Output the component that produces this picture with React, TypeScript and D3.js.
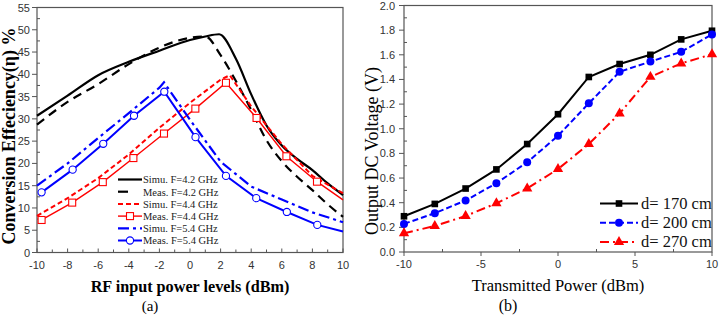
import React, { useEffect, useRef } from 'react';
import * as d3 from 'd3';

// ---- panel (a): conversion efficiency vs RF input power ----
const simu42X = [-10, -8, -6, -4, -2, 0, 1, 1.9, 3, 4, 5, 6, 7, 8, 9, 10];
const simu42Y = [30.7, 35.2, 39.8, 42.8, 45.3, 47.7, 48.5, 49, 43.5, 35.5, 28.5, 24, 21, 18.5, 15.5, 12.9];
const meas42X = [-10, -8, -6, -4, -2, 0, 1, 2, 3, 4, 5, 6, 7, 8, 9, 10];
const meas42Y = [28.7, 33.8, 37.8, 42.3, 46, 48.2, 48.5, 44.3, 38.5, 32, 25.2, 20.5, 17, 14, 10.8, 8];
const simu44X = [-10, -8, -6, -4, -2, 0, 2, 2.6, 4, 6, 8, 10];
const simu44Y = [8.2, 12.2, 16.7, 22, 28, 33.6, 38.8, 39.8, 32.8, 24.3, 17.2, 13.3];
const meas44X = [-9.7, -7.7, -5.7, -3.7, -1.7, 0.35, 2.35, 4.35, 6.3, 8.3, 10];
const meas44Y = [7.3, 11.2, 15.8, 21.2, 26.7, 32.3, 38.1, 30.2, 21.6, 15.9, 11.8];
const simu54X = [-10, -8, -6, -4, -2, -1.7, 0, 2, 4, 6, 8, 10];
const simu54Y = [15, 20, 25.7, 31.3, 37, 38.2, 29.8, 20.4, 14.8, 11.9, 9, 6.8];
const meas54X = [-9.7, -7.67, -5.67, -3.66, -1.68, 0.36, 2.35, 4.33, 6.33, 8.32, 10];
const meas54Y = [13.5, 18.6, 24.4, 30.7, 36.1, 25.9, 17.2, 12.2, 9.1, 6.2, 4.7];
const legendA = ['Simu. F=4.2 GHz', 'Meas. F=4.2 GHz', 'Simu. F=4.4 GHz', 'Meas. F=4.4 GHz', 'Simu. F=5.4 GHz', 'Meas. F=5.4 GHz'];
const ticksAX = [-10, -8, -6, -4, -2, 0, 2, 4, 6, 8, 10];
const ticksAY = [0, 5, 10, 15, 20, 25, 30, 35, 40, 45, 50, 55];

// ---- panel (b): output DC voltage vs transmitted power ----
const powerB = [-10, -8, -6, -4, -2, 0, 2, 4, 6, 8, 10];
const d170 = [0.29, 0.39, 0.515, 0.67, 0.876, 1.118, 1.42, 1.525, 1.6, 1.725, 1.795];
const d200 = [0.228, 0.315, 0.418, 0.558, 0.728, 0.943, 1.206, 1.462, 1.545, 1.624, 1.765];
const d270 = [0.152, 0.211, 0.292, 0.395, 0.516, 0.673, 0.876, 1.124, 1.421, 1.53, 1.605];
const legendB = ['d= 170 cm', 'd= 200 cm', 'd= 270 cm'];
const ticksBX = [-10, -5, 0, 5, 10];
const ticksBY = [0, 0.2, 0.4, 0.6, 0.8, 1.0, 1.2, 1.4, 1.6, 1.8, 2.0];

const SERIF = '"Liberation Serif", "Times New Roman", serif';
const SANS = '"Liberation Sans", Arial, sans-serif';

const App = () => {
  const svgRef = useRef(null);

  useEffect(() => {
    const svg = d3.select(svgRef.current);
    svg.selectAll('*').remove();

    const axisCol = '#555';
    const tickCol = '#333';

    // frame + axes helper
    const drawFrame = (x, y, xTicks, xMinor, yTicks, yMinor, xFmt, yFmt, xInward, labGap) => {
      const [x0, x1] = x.range();
      const [y0, y1] = y.range();
      const g = svg.append('g');
      g.append('rect')
        .attr('x', x0).attr('y', y1)
        .attr('width', x1 - x0).attr('height', y0 - y1)
        .attr('fill', 'none').attr('stroke', axisCol).attr('stroke-width', 1.2);
      // x ticks
      g.selectAll('.xmaj').data(xTicks).join('line')
        .attr('x1', d => x(d)).attr('x2', d => x(d))
        .attr('y1', y0).attr('y2', xInward ? y0 - 4 : y0 + 4)
        .attr('stroke', axisCol);
      g.selectAll('.xmin').data(xMinor).join('line')
        .attr('x1', d => x(d)).attr('x2', d => x(d))
        .attr('y1', y0).attr('y2', y0 - 3)
        .attr('stroke', axisCol);
      g.selectAll('.xlab').data(xTicks).join('text')
        .attr('x', d => x(d)).attr('y', y0 + 16)
        .attr('text-anchor', 'middle')
        .style('font-family', SANS).style('font-size', '11px').attr('fill', tickCol)
        .text(xFmt);
      // y ticks
      g.selectAll('.ymaj').data(yTicks).join('line')
        .attr('x1', x0).attr('x2', x0 - 5)
        .attr('y1', d => y(d)).attr('y2', d => y(d))
        .attr('stroke', axisCol);
      g.selectAll('.ymin').data(yMinor).join('line')
        .attr('x1', x0).attr('x2', x0 + 3)
        .attr('y1', d => y(d)).attr('y2', d => y(d))
        .attr('stroke', axisCol);
      g.selectAll('.ylab').data(yTicks).join('text')
        .attr('x', x0 - labGap).attr('y', d => y(d) + 4)
        .attr('text-anchor', 'end')
        .style('font-family', SANS).style('font-size', '11px').attr('fill', tickCol)
        .text(yFmt);
    };

    const line = (x, y, curve) => d3.line().x(d => x(d[0])).y(d => y(d[1])).curve(curve || d3.curveLinear);
    const zip = (xs, ys) => xs.map((v, i) => [v, ys[i]]);

    // ================= Panel (a) =================
    const xA = d3.scaleLinear().domain([-10, 10]).range([37, 343]);
    const yA = d3.scaleLinear().domain([0, 55]).range([252.5, 7.5]);

    drawFrame(xA, yA, ticksAX, d3.range(-9, 10, 2), ticksAY, d3.range(2.5, 55, 5),
      d => d, d => d, true, 7);

    const gA = svg.append('g');
    const seriesA = [
      { xs: simu42X, ys: simu42Y, color: '#000', w: 2.2, dash: null, curve: d3.curveMonotoneX },
      { xs: meas42X, ys: meas42Y, color: '#000', w: 2.2, dash: '9,6', curve: d3.curveMonotoneX },
      { xs: simu44X, ys: simu44Y, color: '#f00', w: 2, dash: '5,3', curve: d3.curveLinear },
      { xs: meas44X, ys: meas44Y, color: '#f00', w: 1.4, dash: null, curve: d3.curveLinear, marker: 'square' },
      { xs: simu54X, ys: simu54Y, color: '#00f', w: 2.2, dash: '11,4,3,4', curve: d3.curveLinear },
      { xs: meas54X, ys: meas54Y, color: '#00f', w: 2, dash: null, curve: d3.curveLinear, marker: 'circle' },
    ];
    seriesA.forEach(s => {
      const pts = zip(s.xs, s.ys);
      gA.append('path')
        .attr('d', line(xA, yA, s.curve)(pts))
        .attr('fill', 'none').attr('stroke', s.color)
        .attr('stroke-width', s.w)
        .attr('stroke-dasharray', s.dash);
      if (s.marker === 'square') {
        gA.selectAll(null).data(pts.slice(0, -1)).join('rect')
          .attr('x', d => xA(d[0]) - 3.5).attr('y', d => yA(d[1]) - 3.5)
          .attr('width', 7).attr('height', 7)
          .attr('fill', '#fff').attr('stroke', s.color).attr('stroke-width', 1.1);
      }
      if (s.marker === 'circle') {
        gA.selectAll(null).data(pts.slice(0, -1)).join('circle')
          .attr('cx', d => xA(d[0])).attr('cy', d => yA(d[1])).attr('r', 3.6)
          .attr('fill', '#fff').attr('stroke', s.color).attr('stroke-width', 1.1);
      }
    });

    // legend (a)
    const legA = svg.append('g');
    legendA.forEach((lab, i) => {
      const s = seriesA[i];
      const yy = 179.5 + i * 12.2;
      legA.append('line')
        .attr('x1', 118).attr('x2', 142).attr('y1', yy).attr('y2', yy)
        .attr('stroke', s.color).attr('stroke-width', s.w)
        .attr('stroke-dasharray', i === 1 ? '10,40' : i === 4 ? '11,4,3,4' : s.dash);
      if (s.marker === 'square') {
        legA.append('rect').attr('x', 126.5).attr('y', yy - 3.5).attr('width', 7).attr('height', 7)
          .attr('fill', '#fff').attr('stroke', s.color).attr('stroke-width', 1.1);
      }
      if (s.marker === 'circle') {
        legA.append('circle').attr('cx', 130).attr('cy', yy).attr('r', 3.6)
          .attr('fill', '#fff').attr('stroke', s.color).attr('stroke-width', 1.1);
      }
      legA.append('text')
        .attr('x', 143).attr('y', yy + 3.8)
        .style('font-family', SERIF).style('font-size', '10.5px').attr('fill', '#222')
        .text(lab);
    });

    // titles (a)
    svg.append('text')
      .attr('transform', 'translate(15,136) rotate(-90)')
      .attr('text-anchor', 'middle')
      .style('font-family', SERIF).style('font-size', '18px').style('font-weight', 'bold')
      .text('Conversion Effeciency(η) %');
    svg.append('text')
      .attr('x', 190).attr('y', 292)
      .attr('text-anchor', 'middle')
      .style('font-family', SERIF).style('font-size', '16.2px').style('font-weight', 'bold')
      .text('RF input power levels (dBm)');
    svg.append('text')
      .attr('x', 150).attr('y', 311)
      .attr('text-anchor', 'middle')
      .style('font-family', SERIF).style('font-size', '15px')
      .text('(a)');

    // ================= Panel (b) =================
    const xB = d3.scaleLinear().domain([-10, 10]).range([404, 712]);
    const yB = d3.scaleLinear().domain([0, 2]).range([252, 5.5]);

    drawFrame(xB, yB, ticksBX, [-7.5, -2.5, 2.5, 7.5], ticksBY, d3.range(0.1, 2, 0.2),
      d => d, d => d3.format('.1f')(d), false, 9);

    const gB = svg.append('g');
    const seriesB = [
      { ys: d170, color: '#000', dash: null, marker: 'square' },
      { ys: d200, color: '#00f', dash: '6,3', marker: 'circle' },
      { ys: d270, color: '#f00', dash: '9,4,2,4', marker: 'triangle' },
    ];
    const sym = {
      square: d3.symbol().type(d3.symbolSquare).size(44),
      circle: d3.symbol().type(d3.symbolCircle).size(50),
      triangle: d3.symbol().type(d3.symbolTriangle).size(46),
    };
    seriesB.forEach(s => {
      const pts = zip(powerB, s.ys);
      gB.append('path')
        .attr('d', line(xB, yB)(pts))
        .attr('fill', 'none').attr('stroke', s.color)
        .attr('stroke-width', 2).attr('stroke-dasharray', s.dash);
      gB.selectAll(null).data(pts).join('path')
        .attr('d', sym[s.marker]())
        .attr('transform', d => `translate(${xB(d[0])},${yB(d[1])})`)
        .attr('fill', s.color);
    });

    // legend (b)
    const legB = svg.append('g');
    legendB.forEach((lab, i) => {
      const s = seriesB[i];
      const yy = 203.5 + i * 19.2;
      legB.append('line')
        .attr('x1', 600).attr('x2', 638).attr('y1', yy).attr('y2', yy)
        .attr('stroke', s.color).attr('stroke-width', 2).attr('stroke-dasharray', s.dash);
      legB.append('path')
        .attr('d', sym[s.marker]())
        .attr('transform', `translate(619,${yy})`)
        .attr('fill', s.color);
      legB.append('text')
        .attr('x', 641).attr('y', yy + 5.5)
        .style('font-family', SERIF).style('font-size', '16.5px').attr('fill', '#111')
        .text(lab);
    });

    // titles (b)
    svg.append('text')
      .attr('transform', 'translate(378,151) rotate(-90)')
      .attr('text-anchor', 'middle')
      .style('font-family', SERIF).style('font-size', '18px')
      .text('Output DC Voltage (V)');
    svg.append('text')
      .attr('x', 558).attr('y', 291)
      .attr('text-anchor', 'middle')
      .style('font-family', SERIF).style('font-size', '16.5px')
      .text('Transmitted Power (dBm)');
    svg.append('text')
      .attr('x', 508).attr('y', 311)
      .attr('text-anchor', 'middle')
      .style('font-family', SERIF).style('font-size', '16px')
      .text('(b)');
  }, []);

  return (
    <svg
      ref={svgRef}
      width="719"
      height="316"
      style={{ position: 'fixed', left: 0, top: 0, background: '#fff' }}
    ></svg>
  );
};

export default App;
